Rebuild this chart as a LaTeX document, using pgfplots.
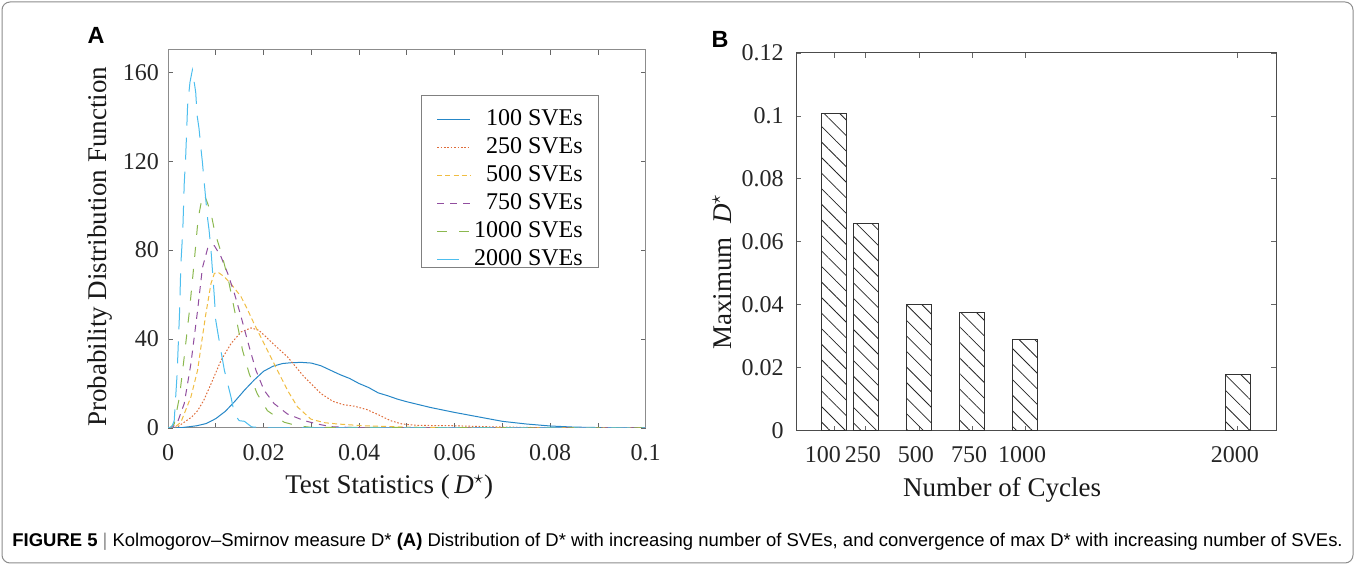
\documentclass[border=0pt]{standalone}
\usepackage{fontspec}
\setmainfont{Liberation Serif}
\newfontfamily\capfont{Liberation Sans}
\usepackage{pgfplots}
\pgfplotsset{compat=1.18}
\usetikzlibrary{patterns.meta}

% MATLAB default line colours
\definecolor{c1}{RGB}{0,114,189}
\definecolor{c2}{RGB}{217,83,25}
\definecolor{c3}{RGB}{237,177,32}
\definecolor{c4}{RGB}{126,47,142}
\definecolor{c5}{RGB}{119,172,48}
\definecolor{c6}{RGB}{77,190,238}

\pgfplotsset{
  matstyle/.style={
    scale only axis,
    tick align=inside,
    major tick length=2.5pt,
    tick style={black!60, line width=0.4pt},
    ticklabel style={font=\fontsize{12}{14}\selectfont, black!85},
    label style={font=\fontsize{13.5}{16}\selectfont, black!90},
    xticklabel style={yshift=-4.5pt},
  },
}

\begin{document}
\begin{tikzpicture}
\path[use as bounding box] (0,0) rectangle (677.5pt,-282.5pt);
\draw[black!45, line width=0.5pt, rounded corners=4pt] (1pt,-1pt) rectangle (676.5pt,-281.5pt);

% ---------- A ----------
\begin{axis}[matstyle,
  at={(84pt,-214pt)}, anchor=south west,
  width=238.85pt, height=189pt,
  xmin=0, xmax=0.1, ymin=0, ymax=170,
  axis line style={black!45, line width=0.5pt},
  xtick={0,0.01,0.02,0.03,0.04,0.05,0.06,0.07,0.08,0.09,0.1},
  xticklabels={0,,0.02,,0.04,,0.06,,0.08,,0.1},
  ytick={0,40,80,120,160},
  yticklabels={0,40,80,120,160},
  yticklabel style={xshift=-1pt},
  xlabel={Test Statistics (\,\textit{D}$^{\star}$)},
  ylabel={Probability Distribution Function},
  xlabel style={at={(axis description cs:0.463,-0.1746)}, anchor=base},
  ylabel style={at={(axis description cs:-0.1277,0.479)}, anchor=base},
  every axis plot/.append style={line width=0.5pt},
  legend image code/.code={\draw[#1] (0pt,-3.9pt) -- (16.5pt,-3.9pt);},
  legend cell align=right,
  legend style={at={(0.9008,0.881)}, anchor=north east,
    draw=black!50, line width=0.4pt, fill=white,
    font=\fontsize{12}{14}\selectfont,
    inner xsep=7.6pt, inner ysep=1.1pt,
    nodes={inner sep=0pt, text height=14pt, text depth=0pt},
    /tikz/every odd column/.append style={column sep=1.7pt}},
]
% 100 SVEs
\addplot[c1!85, solid] coordinates {
(0,0)(0.003,0.2)(0.006,1)(0.008,2)(0.01,4.2)(0.012,7.5)(0.014,12)(0.016,17)
(0.018,21.5)(0.02,25.5)(0.022,27.8)(0.024,29)(0.026,29.4)(0.028,29.5)(0.03,29.2)
(0.032,28)(0.034,26)(0.036,24)(0.038,22.3)(0.04,20)(0.042,18.2)(0.044,15.8)
(0.046,14.5)(0.048,13)(0.05,11.8)(0.055,9.2)(0.06,7)(0.065,5)(0.07,3)(0.075,1.8)
(0.08,0.9)(0.085,0.4)(0.09,0.2)(0.1,0)
};
% 250 SVEs
\addplot[c2!85, dash pattern=on 0.8pt off 0.9pt] coordinates {
(0,0)(0.002,0.5)(0.0034,2.6)(0.005,5)(0.0062,7.8)(0.0075,12.5)(0.009,19.8)
(0.0111,30.4)(0.0132,38)(0.0153,43.2)(0.0174,45)(0.019,44)(0.0205,41)(0.0222,37.5)
(0.025,32)(0.0285,23)(0.032,15.5)(0.0345,12)(0.0367,10.5)(0.039,9.8)(0.0416,8.3)
(0.044,6)(0.0466,3.3)(0.049,1.8)(0.052,1.2)(0.06,1)(0.068,0.5)(0.08,0.1)(0.1,0)
};
% 500 SVEs
\addplot[c3!85, dash pattern=on 2.5pt off 1.6pt] coordinates {
(0,0)(0.0015,0.5)(0.0027,2.6)(0.0048,14)(0.0062,26)(0.007,38)(0.0079,51)(0.009,65)
(0.0097,69.5)(0.0105,70)(0.0118,68)(0.0135,64)(0.0153,59)(0.0167,53)(0.018,47)
(0.0194,41)(0.0208,35)(0.0229,26)(0.025,17)(0.0271,9.5)(0.0299,4)(0.0327,2.4)
(0.0355,1.8)(0.041,1)(0.05,0.4)(0.06,0.1)(0.1,0)
};
% 750 SVEs
\addplot[c4!85, dash pattern=on 3.5pt off 3pt] coordinates {
(0,0)(0.001,0.5)(0.002,2.6)(0.0034,11)(0.0048,29)(0.0062,53)(0.0072,72)(0.0083,80.8)
(0.0097,82)(0.0111,77)(0.0125,69.5)(0.0139,60.5)(0.0153,50)(0.017,36.5)(0.0184,26)
(0.0201,17)(0.0222,11)(0.025,6.3)(0.0285,3.3)(0.0313,1.8)(0.034,0.6)(0.04,0.1)(0.1,0)
};
% 1000 SVEs
\addplot[c5!85, dash pattern=on 5pt off 6pt] coordinates {
(0,0)(0.0005,0.3)(0.0013,1.8)(0.0024,14)(0.0034,32)(0.0045,53)(0.0055,75)(0.0063,94)
(0.007,102)(0.0076,105)(0.0083,101)(0.0091,95.6)(0.0098,88)(0.0114,77)(0.0128,65)
(0.0142,50)(0.0156,35)(0.017,24.4)(0.0187,15.3)(0.0208,7.8)(0.0243,2.6)(0.0271,1)
(0.03,0.3)(0.1,0)
};
% 2000 SVEs
\addplot[c6, dash pattern=on 11pt off 6pt] coordinates {
(0,0)(0.0008,0.5)(0.0013,3.3)(0.0019,24)(0.0024,51)(0.0027,74)(0.0031,89)(0.0034,110)
(0.0037,122)(0.0039,133)(0.0041,145)(0.0046,155.5)(0.0051,161)(0.0058,151)
(0.0061,140.5)(0.0065,134.6)(0.0069,125.6)(0.0072,119.6)(0.0076,110)(0.0079,103)
(0.0083,94)(0.0086,89)(0.009,80)(0.0097,59)(0.01,48.4)(0.0107,39.4)(0.0118,26)
(0.0132,13.8)(0.0139,6.3)(0.0149,3.3)(0.016,3)(0.0175,0.5)(0.02,0.1)(0.1,0)
};
\legend{100 SVEs, 250 SVEs, 500 SVEs, 750 SVEs, 1000 SVEs, 2000 SVEs}
\end{axis}

% ---------- B ----------
\begin{axis}[matstyle,
  at={(398.15pt,-215.35pt)}, anchor=south west,
  width=239.85pt, height=188.85pt,
  xmin=-77, xmax=2180, ymin=0, ymax=0.12,
  axis line style={black!70, line width=0.5pt},
  xtick={100,250,500,750,1000,2000},
  xticklabels={100\hspace*{8pt},250,500,750,1000,2000},
  xticklabel style={xshift=-1.5pt},
  ytick={0,0.02,0.04,0.06,0.08,0.1,0.12},
  yticklabels={0,0.02,0.04,0.06,0.08,0.1,0.12},
  yticklabel style={xshift=-2.8pt},
  xlabel={Number of Cycles},
  ylabel={Maximum\ \ \textit{D}$^{\star}$},
  xlabel style={at={(axis description cs:0.429,-0.173)}, anchor=base},
  ylabel style={at={(axis description cs:-0.136,0.42)}, anchor=base},
]
\addplot[ybar, bar width=120, draw=black!80, line width=0.5pt,
  pattern={Lines[angle=-45, distance=5.5pt, line width=0.4pt]}, pattern color=black!85]
  coordinates {(100,0.1009)(250,0.0658)(500,0.0402)(750,0.0377)(1000,0.0289)(2000,0.0177)};
\end{axis}

\node[font={\capfont\bfseries\fontsize{11.7}{14}\selectfont}] at (48pt,-17.5pt) {A};
\node[font={\capfont\bfseries\fontsize{11.7}{14}\selectfont}] at (360pt,-19.5pt) {B};

\node[anchor=base west, inner sep=0pt, font={\capfont\fontsize{9.23}{11}\selectfont}] at (6pt,-273.5pt)
  {\textbf{FIGURE 5}\ \textcolor{black!45}{|}\ Kolmogorov–Smirnov measure D* \textbf{(A)} Distribution of D* with increasing number of SVEs, and convergence of max D* with increasing number of SVEs.};
\end{tikzpicture}
\end{document}
